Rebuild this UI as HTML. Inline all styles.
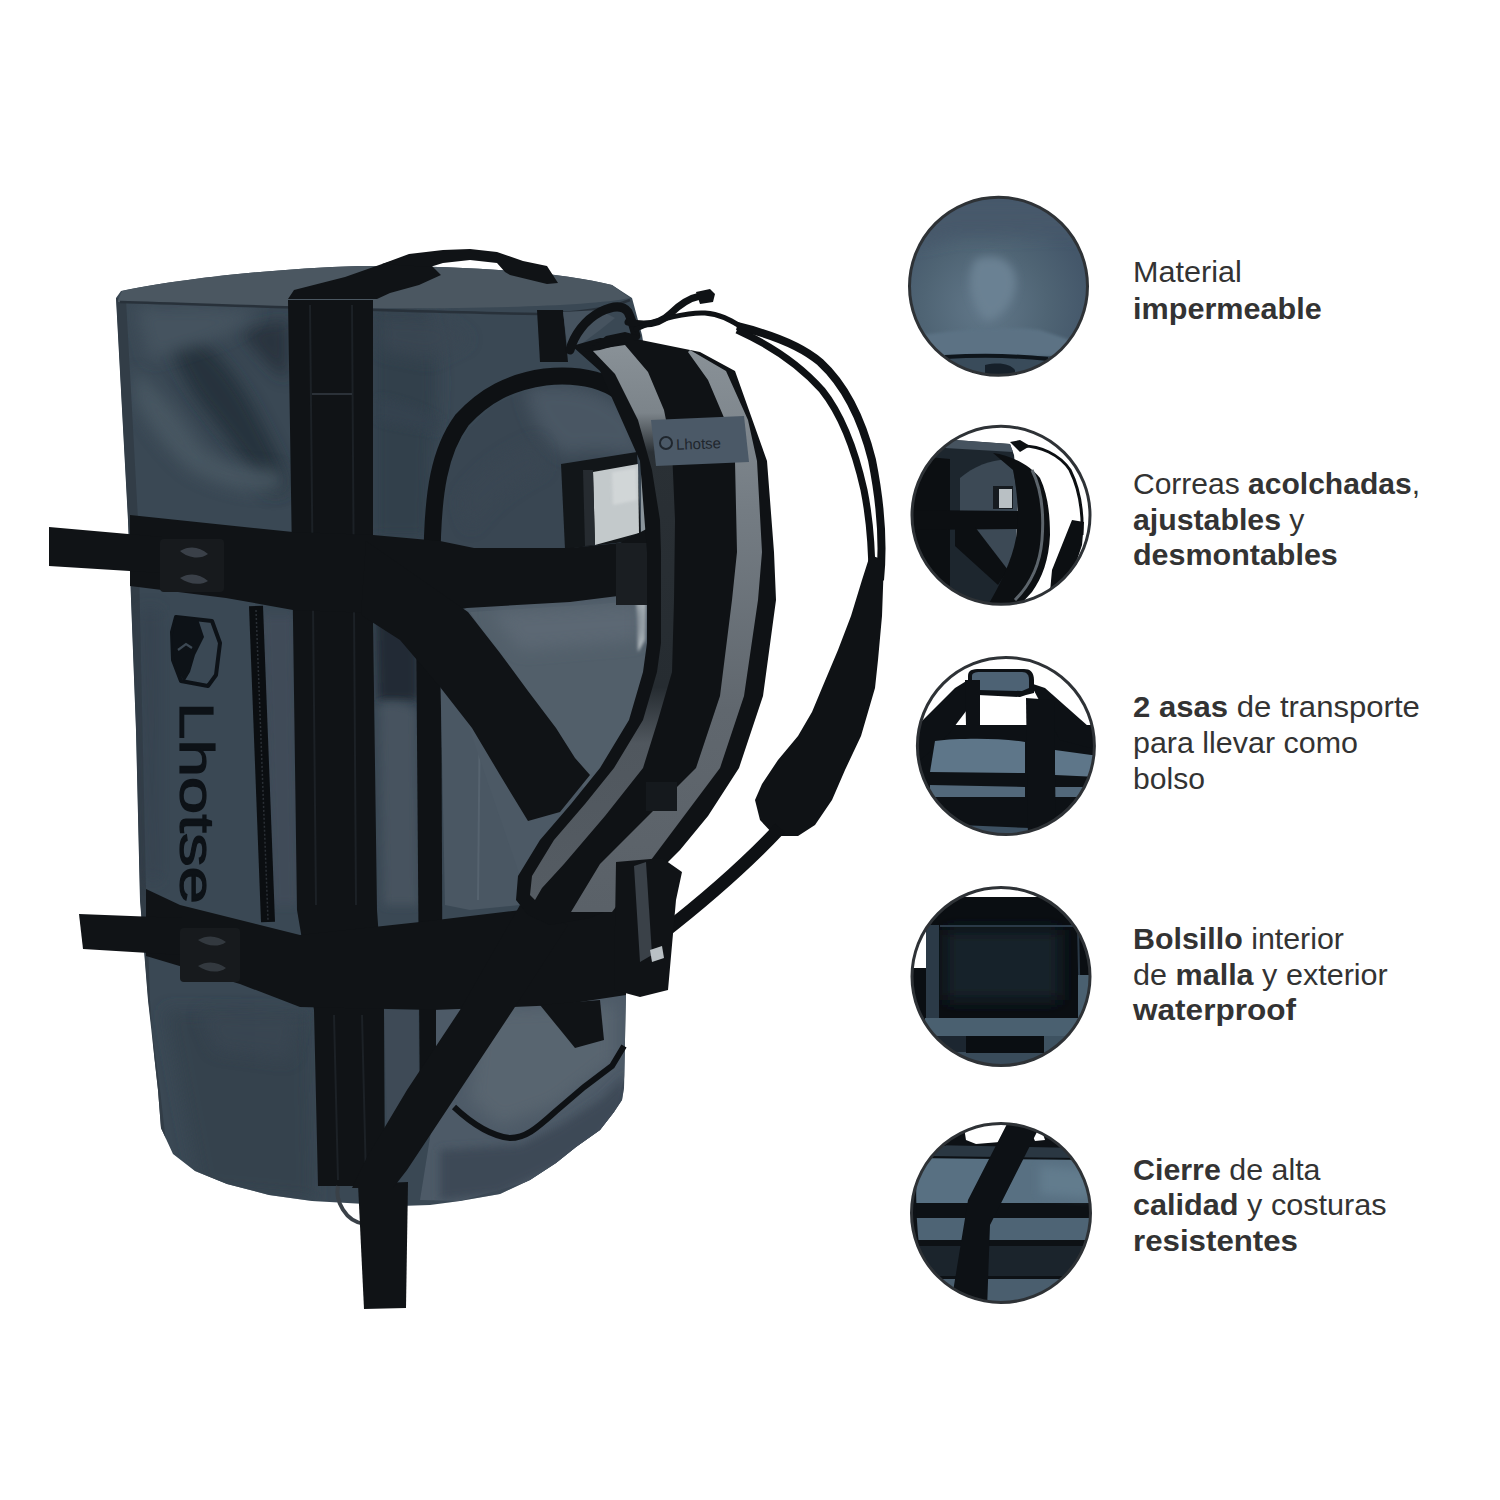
<!DOCTYPE html>
<html><head><meta charset="utf-8"><title>Lhotse</title>
<style>
html,body{margin:0;padding:0;background:#fff;width:1500px;height:1500px;overflow:hidden}
svg{display:block}
</style></head><body>
<svg width="1500" height="1500" viewBox="0 0 1500 1500">
<rect width="1500" height="1500" fill="#fff"/>

<!-- ================= BAG ================= -->
<g id="bag">
<defs>
<filter id="bl8" x="-50%" y="-50%" width="200%" height="200%"><feGaussianBlur stdDeviation="8"/></filter>
<filter id="bl4" x="-50%" y="-50%" width="200%" height="200%"><feGaussianBlur stdDeviation="4"/></filter>
<filter id="bl2" x="-50%" y="-50%" width="200%" height="200%"><feGaussianBlur stdDeviation="1.5"/></filter>
<clipPath id="bodyclip"><path d="M116,298 L121,291 C170,281 260,269 360,266 C460,265 560,272 612,285 L632,298 L642,335 L656,420 L665,550 L665,700 L652,850 L640,950 L626,992 L624,1088 L622,1100 L614,1112 L600,1130 L576,1147 L556,1163 L530,1180 L500,1194 L460,1201 L430,1205 L400,1206 L312,1201 L269,1195 L227,1184 L195,1171 L173,1154 L161,1128 L158,1090 L148,1000 L140,900 L136,730 L128,520 Z"/></clipPath>
</defs>
<!-- body silhouette -->
<path fill="#3a4854" d="M116,298 L121,291 C170,281 260,269 360,266 C460,265 560,272 612,285 L632,298 L642,335 L656,420 L665,550 L665,700 L652,850 L640,950 L626,992 L624,1088 L622,1100 L614,1112 L600,1130 L576,1147 L556,1163 L530,1180 L500,1194 L460,1201 L430,1205 L400,1206 L312,1201 L269,1195 L227,1184 L195,1171 L173,1154 L161,1128 L158,1090 L148,1000 L140,900 L136,730 L128,520 Z"/>
<g clip-path="url(#bodyclip)">
<!-- face shading -->
<path fill="#222d38" opacity="0.8" filter="url(#bl8)" d="M165,318 C200,330 235,370 255,410 C270,440 285,465 290,490 L270,495 C250,470 230,440 205,410 C185,385 168,350 165,318 Z"/>
<path fill="#222c36" opacity="0.7" filter="url(#bl8)" d="M240,330 L288,320 L288,380 C270,370 255,350 240,330 Z"/>
<path fill="#4a5864" opacity="0.9" filter="url(#bl8)" d="M135,370 C160,390 185,420 200,445 C220,465 250,470 280,470 L285,490 C250,495 215,485 190,470 C165,450 145,420 135,400 Z"/>
<path fill="#45535f" filter="url(#bl8)" d="M135,308 C170,305 220,305 260,312 C240,335 200,345 150,360 Z"/>
<!-- dark region right of vertical strap (upper) -->
<path fill="#33404c" filter="url(#bl8)" d="M372,308 L425,310 C440,340 440,400 432,440 L430,540 L372,540 Z"/>
<path fill="#3a4753" opacity="0.8" filter="url(#bl8)" d="M378,315 L440,318 L470,340 L430,360 L380,350 Z"/>
<path fill="#36434f" opacity="0.8" filter="url(#bl4)" d="M378,398 C395,400 420,408 440,420 L438,432 C418,428 395,425 378,420 Z"/>
<!-- side strip -->
<path fill="#323d47" d="M116,298 L126,300 L138,520 L146,890 L150,1000 L160,1150 L168,1160 L160,1090 L148,1000 L140,900 L136,730 L128,520 Z"/>
<!-- lower face shading -->
<path fill="#35424e" filter="url(#bl8)" d="M165,1010 L310,1012 L314,1200 L200,1190 Z"/>
<path fill="#3a4753" opacity="0.7" filter="url(#bl8)" d="M200,1012 L300,1014 L290,1060 L215,1050 Z"/>
<path fill="#34414d" opacity="0.6" filter="url(#bl8)" d="M140,610 L160,610 L160,880 L146,880 Z"/>
<!-- region right of vertical strap (side) -->
<path fill="#222c36" filter="url(#bl4)" d="M376,615 L418,615 L418,700 L378,700 Z"/>
<path fill="#46535f" filter="url(#bl4)" d="M380,705 C395,700 410,705 416,712 L418,905 L384,905 Z"/>
<path fill="#0f1215" d="M416,612 L441,612 L443,1120 L420,1122 Z"/>
<!-- bottom area under X strap near seam -->
<path fill="#4a5763" d="M440,660 L480,700 L520,780 L540,830 L520,905 L470,910 L445,905 Z"/>
<path fill="none" stroke="#56636f" stroke-width="2" d="M480,700 L478,900"/>
<!-- end panel lower -->
<path fill="#4d5a67" d="M436,1000 L626,990 L625,1076 L612,1120 L578,1155 L530,1181 L460,1201 L420,1200 L436,1100 Z"/>
<path fill="#58656f" filter="url(#bl8)" d="M480,1010 L615,1005 L615,1060 L556,1105 L500,1125 L470,1100 Z"/>
<path fill="#3d4a56" filter="url(#bl4)" d="M440,1150 L520,1145 L560,1125 L600,1100 L625,1075 L625,1110 L600,1140 L560,1165 L500,1194 L440,1200 Z"/>
<path fill="#3e4a56" d="M384,1010 L418,1010 L420,1150 L388,1160 Z"/>
<!-- face right of zipper lighter -->
<path fill="#3f4c58" filter="url(#bl4)" d="M262,615 L294,615 L298,905 L272,905 Z"/>
<!-- zipper -->
<path fill="none" stroke="#0b0e11" stroke-width="14" d="M256,606 L268,922"/>
<path fill="none" stroke="#2a2f35" stroke-width="1.5" stroke-dasharray="2 2" d="M256,610 L268,920"/>
<!-- logo -->
<path fill="none" stroke="#0d1217" stroke-width="4" stroke-linejoin="round" d="M176,617 L212,621 L220,643 L216,675 L208,686 L181,681 L173,660 L172,632 Z"/>
<path fill="#0d1217" d="M176,616 L198,619 L204,637 L195,655 L190,672 L184,682 L175,665 L172,640 Z"/>
<path fill="none" stroke="#3c4853" stroke-width="2.2" d="M178,650 L186,644 L192,648"/>
<!-- Lhotse vertical text -->
<text transform="translate(180,702) rotate(90)" font-family="Liberation Sans" font-size="48" fill="#0d1217" stroke="#0d1217" stroke-width="1.2" textLength="202" lengthAdjust="spacingAndGlyphs">Lhotse</text>
</g>
<!-- lid top -->
<path fill="#4b5761" d="M118,300 L122,291 C170,281 260,269 360,266 C460,265 560,272 612,285 L630,298 C560,312 300,310 118,302 Z"/>
<path fill="none" stroke="#28313a" stroke-width="2.5" d="M120,302 C250,306 420,312 540,314 C580,313 610,308 630,300"/>

<!-- end panel dome -->
<path fill="#4c5965" d="M440,540 L660,540 L660,643 L652,711 L630,780 L600,830 L560,875 L530,905 L480,760 L440,640 Z"/>
<path fill="#394652" d="M440,565 L441,500 L450,460 L468,430 L494,405 L526,391 L560,386 L592,389 L616,402 L634,425 L643,455 L646,500 L648,565 Z"/>
<path fill="#4a5763" filter="url(#bl8)" d="M525,388 C570,380 610,390 634,418 L644,458 C618,452 592,448 566,455 C545,440 530,420 525,388 Z"/>
<path fill="#3a4753" opacity="0.7" filter="url(#bl8)" d="M460,500 C480,470 510,450 540,440 L545,470 C520,480 490,500 470,530 Z"/>
<path fill="#525f6a" d="M470,612 L600,604 L648,600 L645,700 L615,770 L585,790 L540,720 Z"/>
<path fill="#b8c0c4" filter="url(#bl2)" d="M636,602 L646,600 L645,640 L638,652 Z"/>
<path fill="#5b6873" filter="url(#bl8)" d="M490,612 L640,604 L640,640 L520,650 Z"/>
<!-- ID window -->
<path fill="#121619" d="M561,464 L637,452 L641,540 L565,549 Z"/>
<path fill="#c3c9cb" d="M593,472 L638,464 L639,533 L595,545 Z"/>
<path fill="#d8dcdd" opacity="0.7" filter="url(#bl2)" d="M612,472 L636,468 L637,500 L613,505 Z"/>
<path fill="#262b30" d="M583,470 L593,470 L595,545 L585,546 Z"/>
<rect x="641" y="458" width="8" height="82" fill="#8a949b"/>

<!-- end panel piping (dome) -->
<path fill="none" stroke="#0e1114" stroke-width="17" d="M432,566 C432,490 440,450 462,420 C485,395 510,382 545,377 C575,374 600,378 620,392 C638,410 648,440 652,470 C656,500 655,530 654,566"/>

<!-- vertical strap -->
<path fill="#101316" d="M288,300 L373,300 L373,620 L377,910 L384,1010 L385,1186 L318,1186 L314,1010 L297,910 L293,620 Z"/>
<path fill="none" stroke="#1c2126" stroke-width="2" d="M310,305 L316,905 M352,305 L356,905 M334,1015 L338,1180 M362,1015 L366,1180"/>
<path fill="none" stroke="#2b3138" stroke-width="2" d="M312,394 L352,394"/>
<!-- bottom dangling strap -->
<path fill="none" stroke="#3a4148" stroke-width="4" d="M338,1186 C335,1200 345,1222 365,1224"/>
<path fill="#101316" d="M358,1184 L408,1182 L406,1308 L364,1309 Z"/>

<!-- handle band + handle -->
<path fill="#101316" d="M288,299 L294,290 L345,277 L382,264 L409,256 L430,264 L441,275 L419,285 L390,293 L377,299 Z"/>
<path fill="#101316" d="M382,264 L409,254 L443,250 L470,249 L497,252 L523,261 L547,266 L558,283 L547,284 L510,275 L505,272 L497,263 L470,260 L443,263 L430,267 Z"/>
<!-- end-side strap near lid -->
<path fill="#101316" d="M537,310 L563,310 L568,362 L540,362 Z"/>
<path fill="#46535f" d="M563,312 L600,310 L615,318 L600,330 L580,345 L568,350 Z"/>

<!-- upper horizontal strap -->
<path fill="#101316" d="M130,515 L293,532 L373,535 L440,541 L474,548 L570,548 L620,543 L654,525 L656,578 L618,596 L570,602 L467,608 L440,613 L373,613 L293,610 L226,598 L130,586 Z"/>
<path fill="#101316" d="M49,527 L162,537 L162,573 L49,566 Z"/>
<rect x="160" y="539" width="64" height="53" rx="4" fill="#171a1d"/>
<path fill="#3a4048" d="M180,551 C190,545 200,547 208,554 C200,560 188,558 180,551 Z M180,578 C190,572 200,574 208,581 C200,586 188,584 180,578 Z"/>
<rect x="616" y="543" width="36" height="62" fill="#1a1e22"/>

<!-- X diagonal strap -->
<path fill="#101316" d="M366,541 L468,612 L500,653 L528,691 L556,728 L575,758 L590,775 L560,812 L528,821 L500,775 L472,728 L440,687 L400,640 L361,615 Z"/>

<!-- lower horizontal strap -->
<path fill="#101316" d="M146,889 L180,905 L260,925 L300,935 L420,922 L513,911 L560,905 L626,896 L626,995 L560,1005 L513,1007 L433,1010 L300,1007 L240,984 L146,956 Z"/>
<path fill="#101316" d="M79,914 L182,918 L182,955 L83,949 Z"/>
<rect x="180" y="928" width="60" height="54" rx="4" fill="#171a1d"/>
<path fill="#33393f" d="M198,940 C208,934 218,936 226,942 C218,948 206,946 198,940 Z M198,966 C208,960 218,962 226,968 C218,974 206,972 198,966 Z"/>

<!-- long diagonal strap to bottom -->
<path fill="#101316" d="M520,905 L568,925 L513,1010 L460,1090 L407,1170 L393,1188 L352,1188 L367,1157 L407,1090 L460,1010 Z"/>

<!-- bottom pocket piping -->
<path fill="none" stroke="#0e1114" stroke-width="6" d="M454,1107 C470,1122 490,1136 510,1138 C525,1138 535,1130 556,1111 L584,1087 L612,1066 L624,1046"/>
<path fill="#101316" d="M540,1005 L600,1000 L604,1040 L575,1048 Z"/>

<!-- padded shoulder strap (base black) -->
<defs>
<linearGradient id="lgrey" x1="0" y1="340" x2="0" y2="900" gradientUnits="userSpaceOnUse">
<stop offset="0" stop-color="#8a9298"/><stop offset="0.13" stop-color="#7c848a"/><stop offset="0.2" stop-color="#2a3035"/><stop offset="0.62" stop-color="#262c31"/><stop offset="0.72" stop-color="#50575e"/><stop offset="1" stop-color="#555c63"/>
</linearGradient>
<linearGradient id="rgrey" x1="0" y1="340" x2="0" y2="910" gradientUnits="userSpaceOnUse">
<stop offset="0" stop-color="#8a9298"/><stop offset="0.3" stop-color="#747c83"/><stop offset="0.65" stop-color="#60676e"/><stop offset="1" stop-color="#5a6168"/>
</linearGradient>
</defs>
<path fill="#0f1215" d="M572,346 L600,338 L636,339 L700,352 L735,371 L767,461 L774,552 L776,600 L763,696 L739,768 L708,816 L680,850 L650,880 L620,905 L590,918 L550,925 L528,915 L516,900 L518,876 L540,840 L571,804 L600,768 L629,720 L643,672 L647,643 L647,552 L640,461 L600,371 Z"/>
<!-- grey lining right -->
<path fill="url(#rgrey)" d="M690,350 L726,371 L748,420 L757,461 L762,552 L758,600 L744,696 L720,768 L684,816 L648,864 L612,912 L571,912 L600,864 L648,816 L696,768 L720,696 L732,600 L737,552 L735,461 L725,420 L708,380 L688,352 Z"/>
<!-- grey lining left -->
<path fill="url(#lgrey)" d="M592,350 L625,345 L648,372 L664,410 L672,450 L675,520 L674,600 L672,672 L658,720 L643,768 L605,816 L564,864 L542,888 L535,900 L530,895 L532,876 L554,840 L585,804 L614,768 L643,720 L657,672 L661,643 L661,552 L660,520 L652,470 L638,420 L615,374 Z"/>
<!-- webbing end -->
<path fill="#15191d" d="M646,782 L677,782 L677,811 L646,811 Z"/>
<!-- Lhotse label -->
<path fill="#4b5967" d="M651,420 L744,416 L749,462 L656,466 Z"/>
<text x="676" y="449" font-family="Liberation Sans" font-size="15" fill="#1f262d" transform="rotate(-2 700 445)">Lhotse</text>
<circle cx="666" cy="443" r="6" fill="none" stroke="#1f262d" stroke-width="2"/>

<!-- top clip -->
<path fill="none" stroke="#0f1215" stroke-width="9" stroke-linecap="round" d="M570,350 C574,335 585,320 600,312 C612,306 622,304 628,312 C632,320 634,328 636,336"/>
<path fill="none" stroke="#0f1215" stroke-width="7" stroke-linecap="round" d="M628,322 C645,326 660,324 670,314 C680,304 690,298 700,296"/>
<path fill="#0f1215" d="M696,292 L710,289 L715,294 L713,302 L700,304 Z"/>
<path fill="none" stroke="#0f1215" stroke-width="5" d="M634,330 C660,318 690,312 705,313 C720,314 730,320 740,326"/>
<path fill="#0f1215" d="M585,352 L606,336 L625,332 L640,336 L628,342 L600,350 Z"/>

<!-- outer thin shoulder strap -->
<path fill="none" stroke="#0e1114" stroke-width="8" d="M737,326 C770,334 800,345 820,362 C845,385 862,420 872,460 C880,500 884,540 880,580"/>
<path fill="none" stroke="#0e1114" stroke-width="7" d="M737,330 C770,345 800,365 822,390 C842,415 855,450 864,490 C870,520 872,550 872,580"/>
<!-- pad -->
<path fill="#0f1215" d="M870,555 L884,560 L882,616 L878,660 L875,688 L861,736 L845,770 L832,800 L815,825 L798,836 L775,836 L760,820 L755,800 L762,784 L778,760 L798,736 L812,712 L822,688 L838,650 L851,616 L862,580 Z"/>
<path fill="none" stroke="#0e1114" stroke-width="13" d="M780,828 C750,860 705,900 660,935"/>
<!-- buckle cluster lower right -->
<path fill="#101316" d="M616,862 L662,858 L682,872 L676,900 L668,990 L640,997 L614,990 Z"/>
<path fill="#3a4148" d="M634,866 L646,862 L652,955 L640,962 Z"/>
<path fill="#b9c0c4" d="M650,950 L662,946 L664,958 L652,962 Z"/>
</g>
<!-- ================= CIRCLES ================= -->
<defs>
<clipPath id="c1"><circle cx="998.5" cy="286.3" r="89"/></clipPath>
<clipPath id="c2"><circle cx="1001" cy="515.3" r="89"/></clipPath>
<clipPath id="c3"><circle cx="1005.9" cy="746" r="88.5"/></clipPath>
<clipPath id="c4"><circle cx="1001" cy="976.5" r="89"/></clipPath>
<clipPath id="c5"><circle cx="1001" cy="1213" r="89.5"/></clipPath>
<radialGradient id="g1" cx="0.42" cy="0.6" r="0.55"><stop offset="0" stop-color="#62788a"/><stop offset="0.6" stop-color="#4f6474"/><stop offset="1" stop-color="#44576a"/></radialGradient>
</defs>
<!-- circle 1: material -->
<g clip-path="url(#c1)">
<rect x="905" y="193" width="190" height="190" fill="url(#g1)"/>
<path fill="#46596a" filter="url(#bl8)" d="M910,200 L1090,200 L1090,235 C1050,230 1000,238 960,235 L910,245 Z"/>
<path fill="#6a8193" filter="url(#bl4)" d="M975,260 C1000,250 1020,265 1015,290 C1010,310 995,320 985,320 C970,300 965,280 975,260 Z"/>
<path fill="#5b7284" filter="url(#bl2)" d="M920,335 C960,330 1000,325 1040,330 L1085,345 L1085,356 L915,356 Z"/>
<path fill="#394b5a" d="M905,356 L1095,356 L1095,385 L905,385 Z"/>
<path fill="none" stroke="#0e151b" stroke-width="4" d="M945,357 C980,355 1020,356 1048,359"/>
<path fill="#16202a" d="M985,365 C1000,362 1010,364 1015,370 L1015,380 L985,380 Z"/>
</g>
<!-- circle 2: straps -->
<g clip-path="url(#c2)">
<rect x="905" y="420" width="195" height="190" fill="#fff"/>
<path fill="#1d262e" d="M905,480 L930,445 L941,439 L1010,444 L1014,455 L1018,497 L1014,546 L995,602 L905,610 Z"/>
<path fill="#46535f" d="M941,439 L1010,444 L1013,452 L945,448 Z"/>
<path fill="#0c0f12" d="M905,455 L950,459 L950,610 L905,610 Z"/>
<path fill="#3c4955" d="M960,478 C975,465 995,458 1012,460 L1018,500 L1016,545 L1005,575 L960,528 Z"/>
<rect x="993" y="486" width="20" height="23" fill="#161b20"/>
<rect x="999" y="489" width="13" height="19" fill="#b9c0c4"/>
<path fill="#0c0f12" d="M905,510 L1018,511 L1018,529 L905,530 Z"/>
<path fill="#0c0f12" d="M955,527 L975,527 L1008,570 L998,585 L955,546 Z"/>
<path fill="#0c0f12" d="M993,453 C1010,455 1030,465 1040,478 C1048,495 1050,515 1050,535 C1049,560 1042,578 1032,592 L1020,605 L988,605 C1000,585 1012,560 1016,538 C1019,515 1018,495 1013,470 Z"/>
<path fill="none" stroke="#5d656c" stroke-width="3" d="M1032,470 C1042,490 1044,515 1042,540 C1040,565 1030,585 1015,600"/>
<path fill="none" stroke="#0c0f12" stroke-width="3" d="M1020,446 C1040,445 1060,455 1070,470 C1080,490 1083,510 1082,535"/>
<path fill="#0c0f12" d="M1072,520 L1084,522 L1082,545 L1072,575 L1060,592 L1050,592 L1052,570 L1062,545 Z"/>
<path fill="none" stroke="#0c0f12" stroke-width="3" d="M1055,590 L1025,604"/>
<path fill="#0c0f12" d="M1010,442 L1020,440 L1030,446 L1020,452 Z"/>
</g>
<!-- circle 3: handles -->
<g clip-path="url(#c3)">
<rect x="910" y="650" width="195" height="195" fill="#fff"/>
<path fill="#0d1115" d="M915,725 L1100,725 L1100,840 L915,840 Z"/>
<path fill="#0d1115" d="M915,728 L955,688 L968,680 L982,690 L948,735 L915,765 Z"/>
<path fill="#0d1115" d="M1030,683 L1045,688 L1098,735 L1098,750 L1060,740 Z"/>
<path fill="#0d1115" d="M968,676 C968,670 972,669 980,669 L1024,669 C1030,669 1034,672 1034,680 L1034,693 L1026,695 L1020,697 L978,695 L968,693 Z"/>
<path fill="#4d6274" d="M972,676 C972,673 975,672 980,672 L1022,672 C1027,672 1029,675 1029,680 L1029,688 L1022,691 L978,690 L972,688 Z"/>
<path fill="#0d1115" d="M965,680 L980,680 L980,726 L966,726 Z"/>
<path fill="#5e7689" d="M935,741 C960,738 1000,738 1025,742 L1025,773 L930,772 Z"/>
<path fill="#5e7689" d="M1055,750 L1098,756 L1098,777 L1055,775 Z"/>
<path fill="#52687a" d="M930,785 L1025,787 L1025,797 L930,797 Z"/>
<path fill="#52687a" d="M1055,787 L1098,787 L1098,797 L1055,797 Z"/>
<path fill="#3d5162" d="M960,825 L1030,828 L1030,840 L960,840 Z"/>
<path fill="#0d1115" d="M1026,698 L1054,700 L1056,840 L1028,840 Z"/>
</g>
<!-- circle 4: pocket -->
<g clip-path="url(#c4)">
<rect x="905" y="880" width="195" height="195" fill="#0a0e12"/>
<path fill="#fff" d="M905,880 L1100,880 L1100,897 L905,897 Z"/>
<path fill="#fff" d="M905,930 L926,930 L927,968 L905,968 Z"/>
<path fill="#17222c" filter="url(#bl8)" d="M945,930 L1060,930 L1060,1000 L945,1000 Z"/>
<path fill="#2b3a47" d="M926,925 L939,925 L939,1022 L926,1022 Z"/>
<path fill="none" stroke="#2a3947" stroke-width="2" d="M940,926 L1078,926 L1080,1015"/>
<path fill="#4a6070" d="M925,1018 L1080,1018 L1080,1036 L925,1036 Z"/>
<path fill="#4a6070" d="M1078,975 L1095,975 L1095,1022 L1078,1022 Z"/>
<path fill="#1c2630" d="M905,1036 L966,1036 L966,1075 L905,1075 Z"/>
<path fill="#3e5261" d="M1044,1036 L1095,1036 L1095,1075 L1044,1075 Z"/>
<path fill="#394b5a" d="M905,1052 L1095,1052 L1095,1075 L905,1075 Z"/>
<path fill="#0a0e12" d="M966,1036 L1044,1036 L1044,1053 L966,1053 Z"/>
<path fill="#0a0e12" d="M905,1030 L925,1030 L935,1075 L905,1075 Z"/>
</g>
<!-- circle 5: zipper -->
<g clip-path="url(#c5)">
<rect x="905" y="1115" width="195" height="195" fill="#0d1115"/>
<path fill="#fff" d="M962,1115 L1022,1115 L1014,1131 L1000,1142 L976,1144 L966,1140 Z"/>
<path fill="#fff" d="M1030,1130 L1040,1125 L1045,1140 L1035,1141 Z"/>
<path fill="#2a3742" d="M930,1145 L1080,1148 L1080,1158 L930,1156 Z"/>
<path fill="#587082" d="M912,1158 L1095,1160 L1095,1203 L912,1203 Z"/>
<path fill="#627b8d" filter="url(#bl4)" d="M1040,1166 L1090,1170 L1090,1198 L1040,1194 Z"/>
<path fill="#4e6475" d="M912,1218 L1095,1218 L1095,1240 L912,1240 Z"/>
<path fill="#1b242c" d="M912,1246 L1095,1246 L1095,1276 L912,1276 Z"/>
<path fill="#4a5e6e" d="M912,1279 L1095,1279 L1095,1310 L912,1310 Z"/>
<path fill="#0d1115" d="M1008,1122 L1040,1126 L990,1225 L987,1310 L950,1310 L968,1200 Z"/>
<path fill="#0d1115" d="M930,1140 L945,1128 L955,1135 L945,1146 Z"/>
<path fill="none" stroke="#0d1115" stroke-width="5" d="M915,1160 C912,1200 914,1240 922,1280"/>
</g>
<g id="circles" fill="none" stroke="#2e3236" stroke-width="3">
<circle cx="998.5" cy="286.3" r="89"/>
<circle cx="1001" cy="515.3" r="89"/>
<circle cx="1005.9" cy="746" r="88.5"/>
<circle cx="1001" cy="976.5" r="89"/>
<circle cx="1001" cy="1213" r="89.5"/>
</g>

<!-- ================= TEXT ================= -->
<g font-family="Liberation Sans" font-size="29.6" fill="#333">
<text x="1133" y="282.4" textLength="108.8" lengthAdjust="spacingAndGlyphs">Material</text>
<text x="1133" y="318.7" font-weight="bold" textLength="188.7" lengthAdjust="spacingAndGlyphs">impermeable</text>

<text x="1133" y="494.2" textLength="287" lengthAdjust="spacingAndGlyphs">Correas <tspan font-weight="bold">acolchadas</tspan>,</text>
<text x="1133" y="529.6" textLength="171.5" lengthAdjust="spacingAndGlyphs"><tspan font-weight="bold">ajustables</tspan> y</text>
<text x="1133" y="565" font-weight="bold" textLength="204.8" lengthAdjust="spacingAndGlyphs">desmontables</text>

<text x="1133" y="717.3" textLength="286.8" lengthAdjust="spacingAndGlyphs"><tspan font-weight="bold">2 asas</tspan> de transporte</text>
<text x="1133" y="753.3" textLength="224.9" lengthAdjust="spacingAndGlyphs">para llevar como</text>
<text x="1133" y="789.1" textLength="71.9" lengthAdjust="spacingAndGlyphs">bolso</text>

<text x="1133" y="948.8" textLength="211" lengthAdjust="spacingAndGlyphs"><tspan font-weight="bold">Bolsillo</tspan> interior</text>
<text x="1133" y="984.6" textLength="254.8" lengthAdjust="spacingAndGlyphs">de <tspan font-weight="bold">malla</tspan> y exterior</text>
<text x="1133" y="1019.8" font-weight="bold" textLength="163" lengthAdjust="spacingAndGlyphs">waterproof</text>

<text x="1133" y="1179.9" textLength="187.5" lengthAdjust="spacingAndGlyphs"><tspan font-weight="bold">Cierre</tspan> de alta</text>
<text x="1133" y="1215" textLength="253.7" lengthAdjust="spacingAndGlyphs"><tspan font-weight="bold">calidad</tspan> y costuras</text>
<text x="1133" y="1250.6" font-weight="bold" textLength="165" lengthAdjust="spacingAndGlyphs">resistentes</text>
</g>
</svg>
</body></html>
